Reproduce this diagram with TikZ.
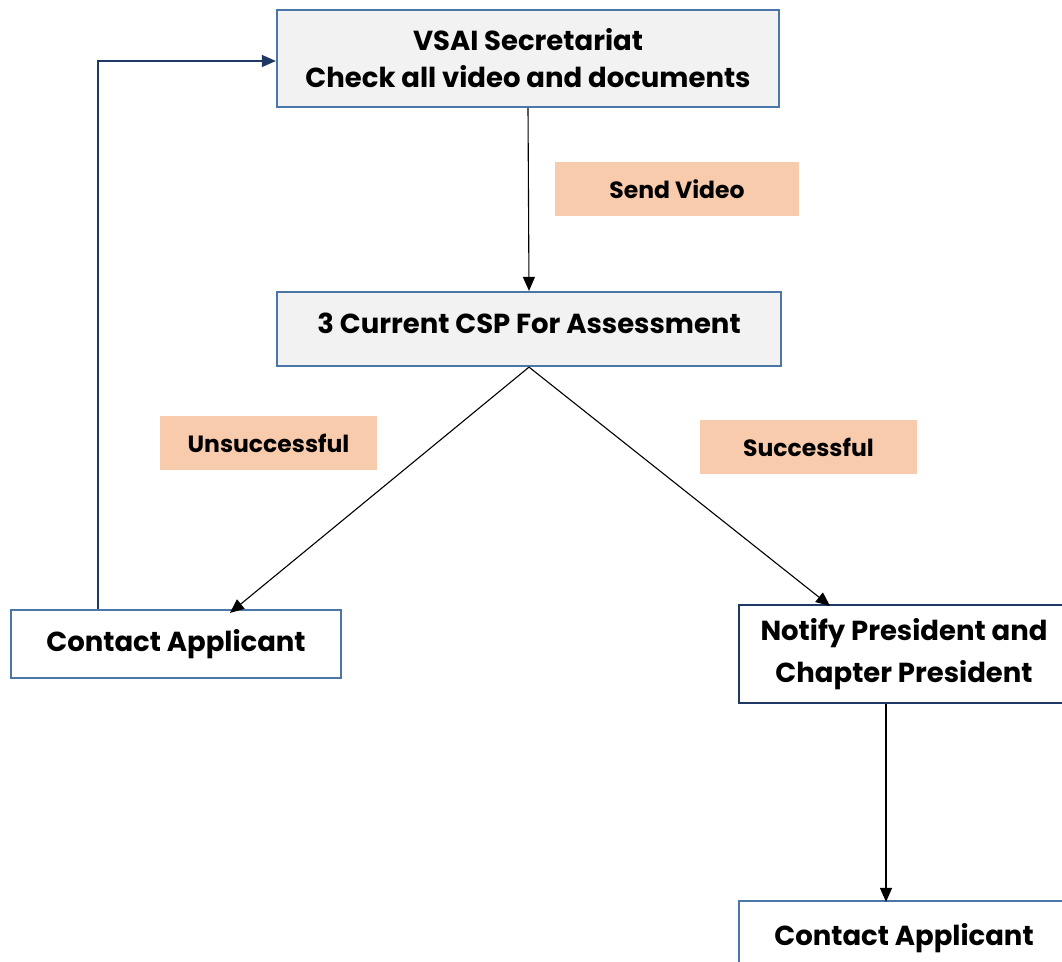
\documentclass[tikz,border=0pt]{standalone}
\usepackage{fontspec}
\setmainfont{Poppins}
\usetikzlibrary{arrows.meta}
\definecolor{boxblue}{RGB}{74,118,168}
\definecolor{navyblue}{RGB}{31,56,100}
\definecolor{boxgray}{RGB}{242,242,242}
\definecolor{peach}{RGB}{248,203,173}
\begin{document}
\begin{tikzpicture}[x=1pt,y=-1pt,>={Triangle[length=14pt,width=12pt]},
  stepbox/.style={draw=boxblue,line width=2.2pt,align=center,font=\fontsize{27.5}{37}\selectfont\bfseries},
  greybox/.style={stepbox,fill=boxgray},
  tagbox/.style={fill=peach,minimum width=217pt,minimum height=54pt,font=\fontsize{23.5}{26}\selectfont\bfseries},
  link/.style={->,line width=1.1pt,black}]
\useasboundingbox (0,0) rectangle (1062,961);

\node[greybox,minimum width=502pt,minimum height=97pt] (sec) at (528,58.5) {VSAI Secretariat\\Check all video and documents};
\node[greybox,minimum width=504pt,minimum height=74pt,text depth=12pt] (csp) at (529,329) {3 Current CSP For Assessment};
\node[stepbox,fill=white,minimum width=330pt,minimum height=68pt] (cl) at (176,644) {Contact Applicant};
\node[stepbox,draw=navyblue,fill=white,minimum width=330pt,minimum height=98pt,font=\fontsize{27.5}{42}\selectfont\bfseries] (notify) at (904,654) {Notify President and\\Chapter President};
\node[stepbox,fill=white,minimum width=330pt,minimum height=74pt] (cr) at (904,938) {Contact Applicant};

\node[tagbox,minimum width=244pt] (send) at (677,189) {Send Video};
\node[tagbox] (fail) at (268.5,443) {Unsuccessful};
\node[tagbox] (pass) at (808.5,447) {Successful};

\draw[link] (sec.south) -- (csp.north);
\draw[link] (csp.south) -- ([xshift=54pt,yshift=-4pt]cl.north);
\draw[link] (csp.south) -- ([xshift=-74pt,yshift=-2pt]notify.north);
\draw[link] ([xshift=-18pt]notify.south) -- ([xshift=-18pt,yshift=-2pt]cr.north);
\draw[link,navyblue] ([xshift=-78pt]cl.north) |- ([yshift=-2.5pt]sec.west);
\end{tikzpicture}
\end{document}
